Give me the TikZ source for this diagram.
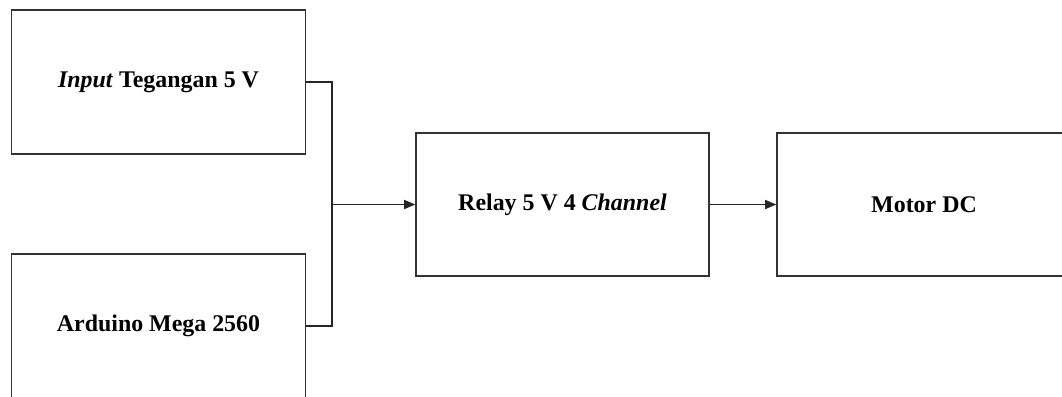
\documentclass[tikz,border=0pt]{standalone}
\usepackage{fontspec}
\setmainfont{Liberation Serif}
\usetikzlibrary{arrows.meta}

\begin{document}
\begin{tikzpicture}[x=0.025cm, y=-0.025cm,
    blok/.style={draw=black!80, line width=0.9pt, fill=white,
                 minimum width=7.35cm, minimum height=3.6cm, inner sep=0pt,
                 align=center, font=\fontsize{17}{19}\selectfont\bfseries},
    garis/.style={line width=0.9pt, draw=black!85},
    panah/.style={garis, -{Triangle[length=8pt, width=6.5pt]}}]
    \useasboundingbox (0,0) rectangle (1062,396);
    \clip (0,0) rectangle (1062,396);
    \node[blok] (input)   at (158.5, 82)  {\textit{Input} Tegangan 5 V};
    \node[blok] (arduino) at (158.5, 326) {Arduino Mega 2560};
    \node[blok, minimum width=7.325cm, minimum height=3.575cm]
                (relay)   at (562.5, 204.5) {Relay 5 V 4 \textit{Channel}};
    \node[blok, minimum height=3.575cm]
                (motor)   at (924, 204.5) {Motor DC};
    \coordinate (gabung) at (332, 204.5);
    % jalur ke relay
    \draw[garis] (input.east) -| (gabung);
    \draw[garis] (arduino.east) -| (gabung);
    \draw[panah] (gabung) -- (relay.west);
    \draw[panah] (relay.east) -- (motor.west);
\end{tikzpicture}
\end{document}
